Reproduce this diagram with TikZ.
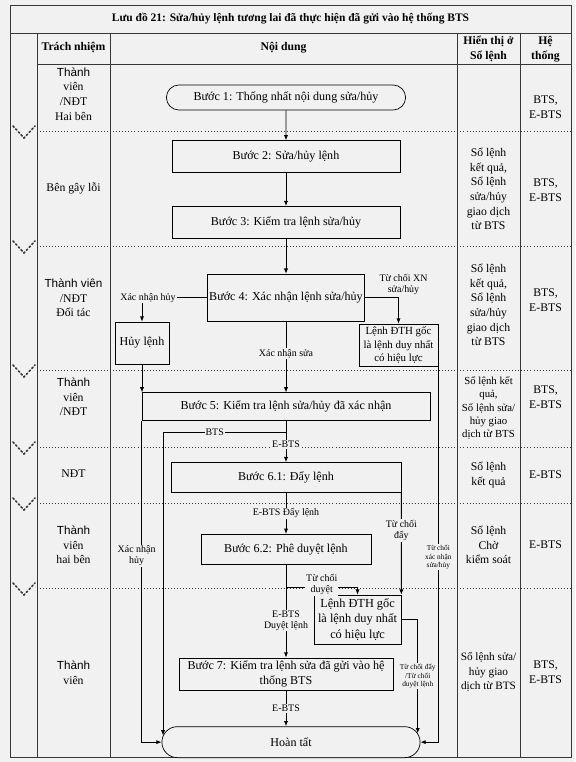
\documentclass[tikz,border=0pt]{standalone}
\usepackage{fontspec}
\setmainfont{Liberation Serif}
\newfontfamily\arialfont{Liberation Sans}
\usetikzlibrary{positioning, shapes.misc, arrows.meta}
\definecolor{scangrey}{RGB}{241,241,241}
\definecolor{rulegrey}{RGB}{55,55,55}

\begin{document}
\begin{tikzpicture}[x=0.03cm, y=-0.03cm, >={Latex[length=4.5pt,width=3.6pt]},
    every node/.style={font=\fontsize{10.3}{13.5}\selectfont},
    stepbox/.style={draw, rectangle, line width=0.6pt, fill=scangrey, align=center, inner sep=1.5pt},
    endbox/.style={draw, rounded rectangle, line width=0.6pt, fill=scangrey, align=center},
    lbl/.style={fill=scangrey, inner sep=0.8pt, align=center, font=\fontsize{8.5}{9.5}\selectfont},
    tinylbl/.style={lbl, font=\fontsize{6.3}{7.3}\selectfont},
    cell/.style={align=center, inner sep=1pt, font=\fontsize{10}{12.5}\selectfont},
    head/.style={cell, font=\bfseries\fontsize{10}{12.5}\selectfont},
    flow/.style={->, line width=0.75pt},
    tabline/.style={line width=0.7pt, rulegrey},
    sepline/.style={line width=0.6pt, dotted, rulegrey},
    chev/.style={line width=1.4pt, dotted, line cap=round, rulegrey}]

    % page and table frame
    \fill[scangrey] (0,0) rectangle (575,762);
    \useasboundingbox (0,0) rectangle (575,762);
    \draw[tabline] (10,5) rectangle (571,757);
    \draw[tabline] (10,33) -- (571,33);
    \draw[tabline] (37,64) -- (571,64);
    \foreach \c in {37,110,457,520} {
        \draw[tabline] (\c,33) -- (\c,757);
    }
    \foreach \s in {131,246,370,447,503,588} {
        \draw[sepline] (37,\s) -- (571,\s);
        \draw[chev] (13,\s-5) -- (24,\s+7) -- (35,\s-5);
    }

    % title and headers
    \node[head, font=\bfseries\fontsize{9.8}{11}\selectfont] (title) at (290.5,19) {Lưu đồ 21: Sửa/hủy lệnh tương lai đã thực hiện đã gửi vào hệ thống BTS};
    \node[head] (hresp) at (73.5,48) {Trách nhiệm};
    \node[head] (hcont) at (283.5,48) {Nội dung};
    \node[head] (hview) at (488.5,49) {Hiển thị ở\\Sổ lệnh};
    \node[head] (hsys) at (545.5,49) {Hệ\\thống};

    % responsibility column
    \node[cell] (role1) at (73.5,94) {\arialfont Thành\\viên\\\rmfamily /NĐT\\Hai bên};
    \node[cell] (role2) at (73.5,188) {Bên gây lỗi};
    \node[cell] (role3) at (73.5,298) {\arialfont Thành viên\\\rmfamily /NĐT\\Đối tác};
    \node[cell] (role4) at (73.5,397) {\arialfont Thành\\viên\\\rmfamily /NĐT};
    \node[cell] (role5) at (73.5,474) {NĐT};
    \node[cell] (role6) at (73.5,545) {\arialfont Thành\\viên\\hai bên};
    \node[cell] (role7) at (73.5,673) {\arialfont Thành\\viên};

    % order book column
    \node[cell] (view2) at (488.5,189) {Sổ lệnh\\kết quả,\\Sổ lệnh\\sửa/hủy\\giao dịch\\từ BTS};
    \node[cell] (view3) at (488.5,305) {Sổ lệnh\\kết quả,\\Sổ lệnh\\sửa/hủy\\giao dịch\\từ BTS};
    \node[cell, font=\fontsize{9.2}{11.5}\selectfont] (view4) at (488.5,408) {Sổ lệnh kết\\quả,\\Sổ lệnh sửa/\\hủy giao\\dịch từ BTS};
    \node[cell] (view5) at (488.5,475) {Sổ lệnh\\kết quả};
    \node[cell] (view6) at (488.5,545) {Sổ lệnh\\Chờ\\kiểm soát};
    \node[cell, font=\fontsize{9.6}{12.5}\selectfont] (view7) at (488.5,672) {Sổ lệnh sửa/\\hủy giao\\dịch từ BTS};

    % system column
    \node[cell] (sys1) at (545.5,107) {BTS,\\E-BTS};
    \node[cell] (sys2) at (545.5,190) {BTS,\\E-BTS};
    \node[cell] (sys3) at (545.5,300) {BTS,\\E-BTS};
    \node[cell] (sys4) at (545.5,397) {BTS,\\E-BTS};
    \node[cell] (sys5) at (545.5,475) {E-BTS};
    \node[cell] (sys6) at (545.5,545) {E-BTS};
    \node[cell] (sys7) at (545.5,672) {BTS,\\E-BTS};

    % flow steps
    \node[endbox, minimum width=7.41cm, minimum height=0.75cm] (step1) at (286,97.5) {Bước 1: Thống nhất nội dung sửa/hủy};
    \node[stepbox, minimum width=6.84cm, minimum height=0.96cm, below=0.9cm of step1] (step2) {Bước 2: Sửa/hủy lệnh};
    \node[stepbox, minimum width=6.84cm, minimum height=0.96cm, below=0.99cm of step2] (step3) {Bước 3: Kiểm tra lệnh sửa/hủy};
    \node[stepbox, minimum width=4.71cm, minimum height=1.41cm, below=1.05cm of step3] (step4) {Bước 4: Xác nhận lệnh sửa/hủy};
    \node[stepbox, minimum width=1.62cm, minimum height=1.26cm] (huy) at (142,343) {Hủy lệnh};
    \node[stepbox, minimum width=2.37cm, minimum height=1.26cm, inner sep=1pt, font=\fontsize{9.3}{11.8}\selectfont] (dth1) at (398.5,345) {Lệnh ĐTH gốc\\là lệnh duy nhất\\có hiệu lực};
    \node[stepbox, minimum width=8.64cm, minimum height=0.84cm, below=2.13cm of step4] (step5) {Bước 5: Kiểm tra lệnh sửa/hủy đã xác nhận};
    \node[stepbox, minimum width=6.9cm, minimum height=0.9cm, below=1.23cm of step5] (step61) {Bước 6.1: Đẩy lệnh};
    \node[stepbox, minimum width=5.1cm, minimum height=0.9cm, below=1.23cm of step61] (step62) {Bước 6.2: Phê duyệt lệnh};
    \node[stepbox, minimum width=2.61cm, minimum height=1.47cm, inner sep=1pt, font=\fontsize{10.5}{13.5}\selectfont] (dth2) at (357.5,619.5) {Lệnh ĐTH gốc\\là lệnh duy nhất\\có hiệu lực};
    \node[stepbox, minimum width=6.42cm, minimum height=0.96cm, inner sep=1pt, below=2.79cm of step62] (step7) {Bước 7: Kiểm tra lệnh sửa đã gửi vào hệ\\thống BTS};
    \node[endbox, minimum width=7.98cm, minimum height=0.93cm, below=1.08cm of step7, xshift=0.15cm] (done) {Hoàn tất};

    % connectors
    \draw[flow] (step1) -- (step2);
    \draw[flow] (step2) -- (step3);
    \draw[flow] (step3) -- (step4);
    \draw[flow] (step4.west) -| node[lbl, pos=0.5, xshift=0.18cm] (lcancel) {Xác nhận hủy} (huy.north);
    \draw[flow] (step4.east) -| node[lbl, pos=0.5, anchor=south, xshift=0.15cm, yshift=0.05cm, fill=none] (lnoconf) {Từ chối XN\\sửa/hủy} (dth1.north);
    \draw[flow] (step4) -- node[lbl, pos=0.45] (ledit) {Xác nhận sửa} (step5);
    \draw[flow] (huy.south) -- (huy.south |- step5.north);
    \draw[flow] (step5.south west) |- node[lbl, pos=0.21, xshift=-0.15cm] (lcancel2) {Xác nhận\\hủy} (done.west);
    \draw[flow] (step5) -- node[pos=0.27, coordinate] (fork) {} node[lbl, pos=0.57] (lebts1) {E-BTS} (step61);
    \draw[flow] (fork) -| node[lbl, pos=0.29] (lbts) {BTS} (done.177);
    \draw[flow] (step61) -- node[lbl] (lpush) {E-BTS Đẩy lệnh} (step62);
    \draw[flow] (step61.south east) -- node[lbl, pos=0.37] (lnopush) {Từ chối\\đẩy} (dth2.north east);
    \draw[flow] (step62) -- node[pos=0.25, coordinate] (fork2) {} node[lbl, pos=0.6] (lapprove) {E-BTS\\Duyệt lệnh} (step7);
    \draw[flow] (fork2) -| node[lbl, pos=0.25, yshift=0.1cm] (lnoappr) {Từ chối\\duyệt} (dth2.north);
    \draw[flow] (dth2.east) -| node[tinylbl, pos=0.75] (lnoboth) {Từ chối đẩy\\/Từ chối\\duyệt lệnh} (done.4);
    \draw[flow] (dth1.south east) |- node[tinylbl, pos=0.254] (lnoxn) {Từ chối\\xác nhận\\sửa/hủy} (done.east);
    \draw[flow] (step7.south) -- node[lbl] (lebts2) {E-BTS} (step7.south |- done.north);
\end{tikzpicture}
\end{document}
